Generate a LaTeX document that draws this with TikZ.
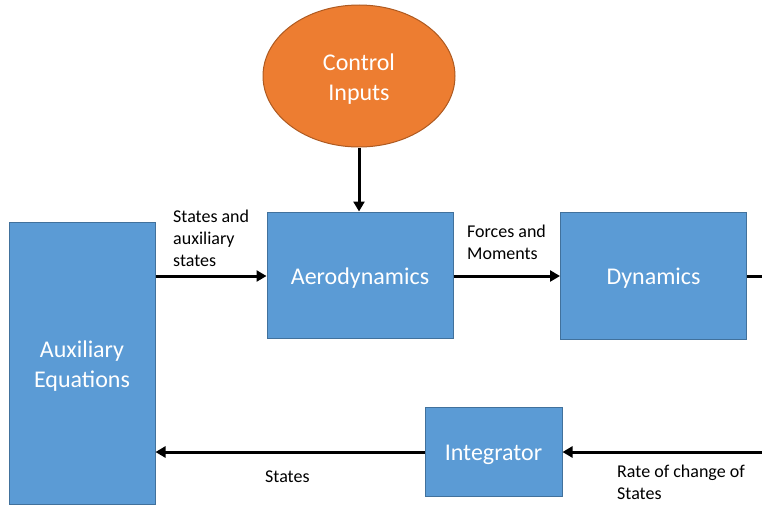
\documentclass[tikz,border=0pt]{standalone}
\usepackage{fontspec}
\setmainfont{Carlito}
\usetikzlibrary{arrows.meta,shapes.geometric}
\definecolor{boxblue}{HTML}{5B9BD5}
\definecolor{boxedge}{HTML}{41719C}
\definecolor{ctrlorange}{HTML}{ED7D31}
\definecolor{ctrledge}{HTML}{AE5A21}
\tikzset{
  boxtext/.style={text=white, align=center, font=\fontsize{24}{30}\selectfont, inner sep=0pt, yshift=-3pt},
  blockbox/.style={rectangle, draw=boxedge, line width=1pt, fill=boxblue, inner sep=0pt},
  ctrlshape/.style={ellipse, draw=ctrledge, line width=1pt, fill=ctrlorange, inner sep=0pt},
  lbl/.style={align=left, font=\fontsize{18}{22}\selectfont, inner sep=0pt, text=black},
  arr/.style={line width=3pt, -{Triangle[length=10pt,width=11pt]}},
  plainline/.style={line width=3pt}
}
\begin{document}
\begin{tikzpicture}[x=1pt,y=-1pt]
\useasboundingbox (0,0) rectangle (762,506);
\node[ctrlshape, minimum width=192pt, minimum height=142pt, label={[boxtext]center:Control\\Inputs}] (ctrl) at (359,76) {};
\node[blockbox, minimum width=146pt, minimum height=282pt, label={[boxtext]center:Auxiliary\\Equations}] (aux) at (82,363) {};
\node[blockbox, minimum width=186pt, minimum height=126pt, label={[boxtext]center:Aerodynamics}] (aero) at (360,275) {};
\node[blockbox, minimum width=186pt, minimum height=127pt, label={[boxtext]center:Dynamics}] (dyn) at (653.5,275.5) {};
\node[blockbox, minimum width=137pt, minimum height=89pt, label={[boxtext]center:Integrator}] (integ) at (493.5,451.5) {};
\coordinate (redge1) at (762,276);
\coordinate (redge2) at (762,452);
\draw[arr] (ctrl.south) -- (aero.north -| ctrl.south);
\draw[arr] (aux.east |- redge1) -- (aero.west |- redge1);
\draw[arr] (aero.east |- redge1) -- (dyn.west |- redge1);
\draw[plainline] (dyn.east |- redge1) -- (redge1);
\draw[arr] (redge2) -- (integ.east |- redge2);
\draw[arr] (integ.west |- redge2) -- (aux.east |- redge2);
\node[lbl, anchor=north west] (lblstates) at (173,210) {States and\\auxiliary\\states};
\node[lbl, anchor=north west] (lblforces) at (467,225) {Forces and\\Moments};
\node[lbl, anchor=north west] (lblst) at (265,471) {States};
\node[lbl, anchor=north west] (lblrate) at (617,465) {Rate of change of\\States};
\end{tikzpicture}
\end{document}
